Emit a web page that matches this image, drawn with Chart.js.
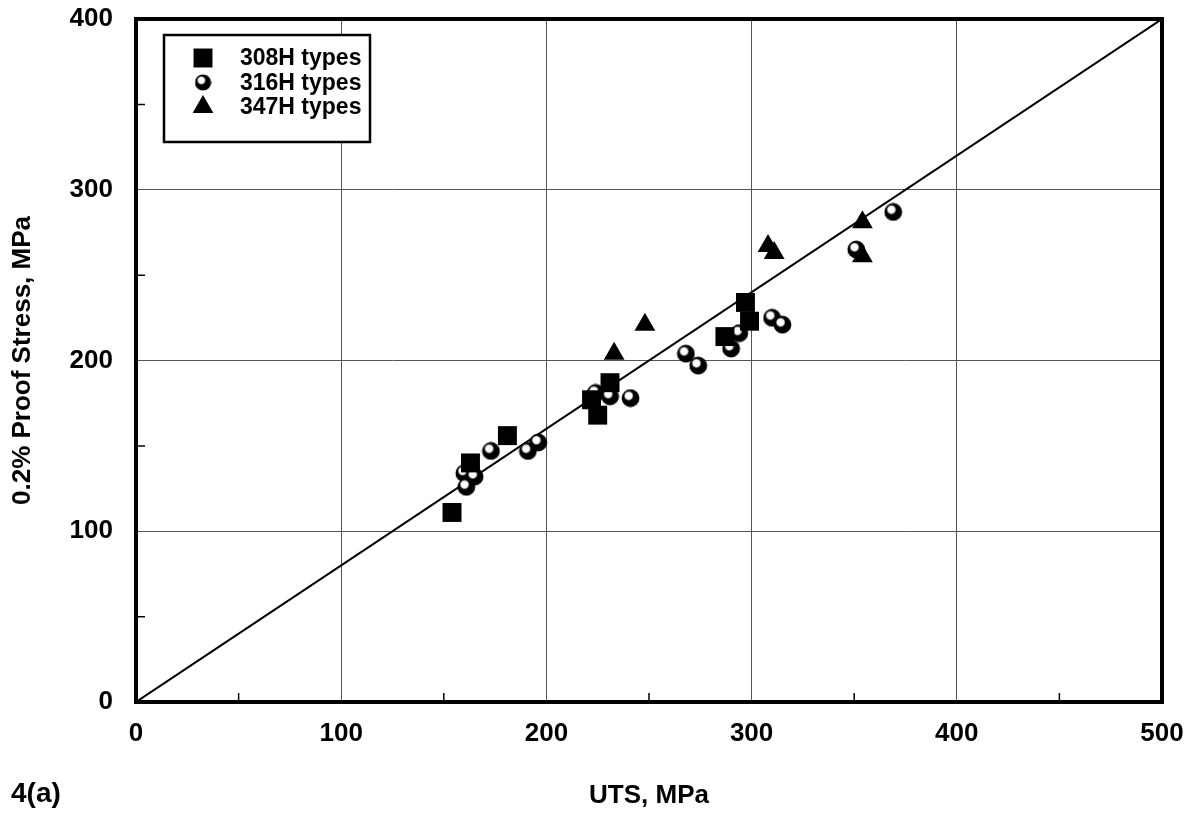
<!DOCTYPE html>
<html>
<head>
<meta charset="utf-8">
<script src="https://cdn.jsdelivr.net/npm/chart.js@4.4.0/dist/chart.umd.min.js"></script>
<style>
  html, body { margin: 0; padding: 0; background: #fff; }
  #wrap { width: 1193px; height: 818px; }
</style>
</head>
<body>
<div id="wrap"><canvas id="chart"></canvas></div>
<script>
// UTS (x) vs 0.2% proof stress (y), MPa
const uts308 = [154, 163, 181, 222, 225, 231, 287, 297, 299];
const ps308  = [111, 140, 156, 177, 168, 187, 214, 234, 223];

const uts316 = [160, 165, 161, 173, 191, 196, 224, 231, 241, 268, 274, 290, 294, 310, 315, 369, 351];
const ps316  = [134, 132, 126, 147, 147, 152, 181, 179, 178, 204, 197, 207, 216, 225, 221, 287, 265];

const uts347 = [233, 248, 308, 311, 354, 354];
const ps347  = [204, 221, 267, 263, 281, 261];

const lineX = [0, 500];
const lineY = [0, 400];

const seriesNames = ['308H types', '316H types', '347H types'];
const xTitle = 'UTS, MPa';
const yTitle = '0.2% Proof Stress, MPa';
const figLabel = '4(a)';

const FONT = '"Liberation Sans", Arial, sans-serif';

const pts = (xs, ys) => xs.map((v, i) => ({ x: v, y: ys[i] }));

// black ball with a white highlight, like the original marker
function makeSphere(r) {
  const s = Math.ceil(r * 2) + 2;
  const c = document.createElement('canvas');
  c.width = s; c.height = s;
  const g = c.getContext('2d');
  const cx = s / 2, cy = s / 2;
  const hx = cx - r * 0.22, hy = cy - r * 0.28;
  const grad = g.createRadialGradient(hx, hy, 0, hx, hy, r * 0.8);
  grad.addColorStop(0, '#fff');
  grad.addColorStop(0.5, '#fff');
  grad.addColorStop(0.75, '#000');
  grad.addColorStop(1, '#000');
  g.beginPath();
  g.arc(cx, cy, r, 0, Math.PI * 2);
  g.fillStyle = grad;
  g.fill();
  g.lineWidth = 1.2;
  g.strokeStyle = '#000';
  g.stroke();
  return c;
}

const sphere = makeSphere(8.3);
const legendSphere = makeSphere(7.5);

// keep tick label overflow from pushing the plot area around
function fixSize(prop, size) {
  return function (scale) {
    scale[prop] = size;
    scale.paddingTop = 0;
    scale.paddingBottom = 0;
    scale.paddingLeft = 0;
    scale.paddingRight = 0;
  };
}

const extras = {
  id: 'extras',
  afterDraw(chart) {
    const { ctx, chartArea: a, scales: { x, y } } = chart;
    ctx.save();

    // inward minor ticks
    ctx.strokeStyle = '#000';
    ctx.lineWidth = 1.5;
    ctx.beginPath();
    for (let v = 50; v < 500; v += 100) {
      const px = x.getPixelForValue(v);
      ctx.moveTo(px, a.bottom);
      ctx.lineTo(px, a.bottom - 9);
    }
    for (let v = 50; v < 400; v += 100) {
      const py = y.getPixelForValue(v);
      ctx.moveTo(a.left, py);
      ctx.lineTo(a.left + 9, py);
    }
    ctx.stroke();

    // frame
    ctx.lineWidth = 4;
    ctx.strokeRect(a.left, a.top, a.right - a.left, a.bottom - a.top);

    // legend box
    const bx = a.left + 28, by = 35, bw = 206, bh = 107;
    ctx.fillStyle = '#fff';
    ctx.fillRect(bx, by, bw, bh);
    ctx.lineWidth = 2.5;
    ctx.strokeRect(bx, by, bw, bh);

    const styles = [
      { pointStyle: 'rect', radius: 13.4 },
      { pointStyle: legendSphere, radius: 7.5 },
      { pointStyle: 'triangle', radius: 12 }
    ];
    ctx.font = 'bold 23px ' + FONT;
    ctx.textBaseline = 'middle';
    ctx.textAlign = 'left';
    seriesNames.forEach((name, i) => {
      const ry = 58 + i * 24.5;
      ctx.fillStyle = '#000';
      Chart.helpers.drawPoint(ctx, { pointStyle: styles[i].pointStyle, radius: styles[i].radius, rotation: 0, borderWidth: 0 }, bx + 39, ry);
      ctx.fillStyle = '#000';
      ctx.fillText(name, bx + 76, ry + 1);
    });

    // figure label
    ctx.font = 'bold 28px ' + FONT;
    ctx.fillText(figLabel, 11, 794);

    ctx.restore();
  }
};

new Chart(document.getElementById('chart'), {
  type: 'scatter',
  data: {
    datasets: [
      {
        label: seriesNames[0],
        data: pts(uts308, ps308),
        pointStyle: 'rect',
        pointRadius: 13.4,
        pointBackgroundColor: '#000',
        pointBorderWidth: 0
      },
      {
        label: seriesNames[1],
        data: pts(uts316, ps316),
        pointStyle: sphere,
        pointRadius: 8.3,
        pointBorderWidth: 0
      },
      {
        label: seriesNames[2],
        data: pts(uts347, ps347),
        pointStyle: 'triangle',
        pointRadius: 12,
        pointBackgroundColor: '#000',
        pointBorderWidth: 0
      },
      {
        label: 'y = 0.8x',
        data: pts(lineX, lineY),
        showLine: true,
        borderColor: '#000',
        borderWidth: 2,
        pointRadius: 0
      }
    ]
  },
  options: {
    responsive: true,
    maintainAspectRatio: false,
    animation: false,
    layout: { padding: { top: 19, right: 31, bottom: 0, left: 0 } },
    plugins: {
      legend: { display: false },
      tooltip: { enabled: false }
    },
    scales: {
      x: {
        type: 'linear',
        min: 0,
        max: 500,
        ticks: {
          stepSize: 100,
          color: '#000',
          font: { family: FONT, size: 26, weight: 'bold' },
          padding: 16
        },
        grid: { color: '#555', lineWidth: 1, drawTicks: false },
        border: { display: false },
        title: {
          display: true,
          text: xTitle,
          color: '#000',
          font: { family: FONT, size: 26, weight: 'bold' },
          padding: { top: 0, bottom: 7 }
        },
        afterFit: fixSize('height', 116)
      },
      y: {
        type: 'linear',
        min: 0,
        max: 400,
        ticks: {
          stepSize: 100,
          color: '#000',
          font: { family: FONT, size: 26, weight: 'bold' },
          padding: 23
        },
        grid: { color: '#555', lineWidth: 1, drawTicks: false },
        border: { display: false },
        title: {
          display: true,
          text: yTitle,
          color: '#000',
          font: { family: FONT, size: 26, weight: 'bold' },
          padding: { top: 7, bottom: 0 }
        },
        afterFit: fixSize('width', 136)
      }
    }
  },
  plugins: [extras]
});
</script>
</body>
</html>
